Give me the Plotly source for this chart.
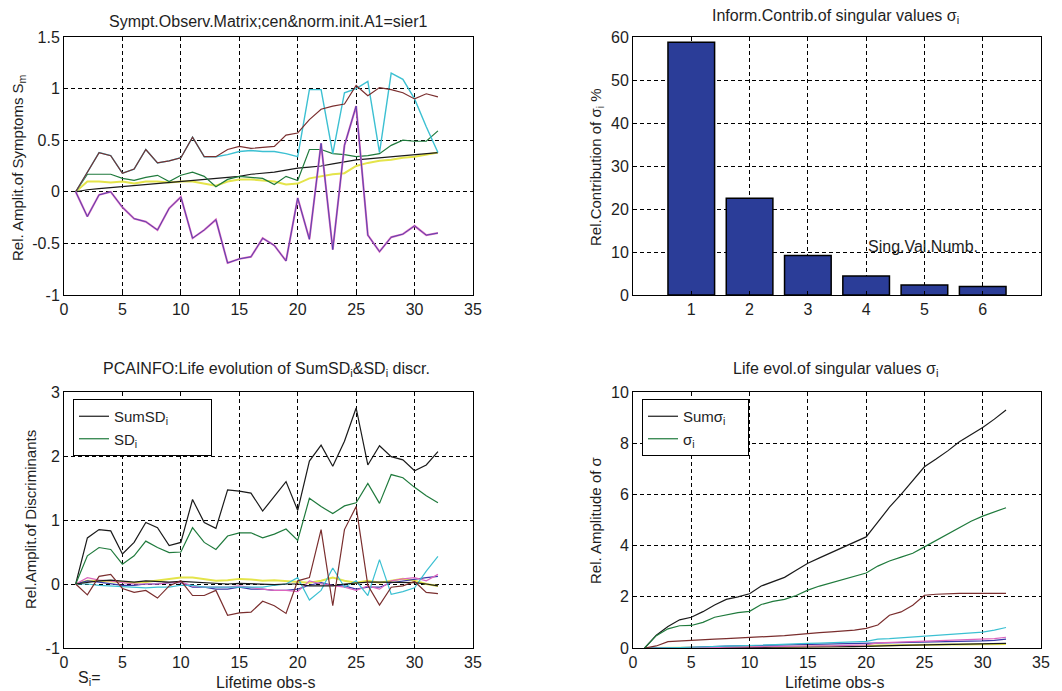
import plotly.graph_objects as go

W, H = 1062, 691

# ---------------- data ----------------
obs = list(range(1, 33))

# top-left: symptom observation matrix
sym_red = [0, 0.19, 0.38, 0.35, 0.18, 0.22, 0.41, 0.28, 0.30, 0.33, 0.53, 0.34, 0.34, 0.41, 0.44, 0.42,
           0.43, 0.44, 0.55, 0.57, 0.70, 0.80, 0.83, 0.85, 1.03, 0.93, 1.01, 0.99, 0.96, 0.90, 0.95, 0.92]
sym_cyan = [0, 0.19, 0.38, 0.35, 0.18, 0.22, 0.41, 0.28, 0.30, 0.33, 0.53, 0.34, 0.34, 0.36, 0.39, 0.40,
            0.39, 0.39, 0.37, 0.34, 0.99, 0.99, 0.37, 0.96, 1.00, 1.07, 0.38, 1.15, 1.09, 0.90, 0.63, 0.38]
sym_green = [0, 0.17, 0.17, 0.17, 0.13, 0.11, 0.14, 0.16, 0.10, 0.16, 0.19, 0.15, 0.05, 0.12, 0.15, 0.14,
             0.13, 0.07, 0.15, 0.11, 0.41, 0.41, 0.37, 0.36, 0.34, 0.35, 0.37, 0.45, 0.50, 0.49, 0.49, 0.59]
sym_yellow = [0, 0.10, 0.10, 0.09, 0.10, 0.08, 0.10, 0.10, 0.09, 0.10, 0.10, 0.08, 0.06, 0.10, 0.12, 0.12,
              0.11, 0.10, 0.07, 0.08, 0.13, 0.15, 0.17, 0.18, 0.25, 0.28, 0.30, 0.31, 0.33, 0.34, 0.36, 0.38]
sym_black = [0, 0.02, 0.03, 0.04, 0.05, 0.06, 0.07, 0.08, 0.09, 0.10, 0.11, 0.12, 0.13, 0.14, 0.15, 0.17,
             0.18, 0.19, 0.21, 0.23, 0.24, 0.25, 0.27, 0.29, 0.31, 0.32, 0.33, 0.34, 0.35, 0.36, 0.37, 0.38]
sym_magenta = [0, -0.24, -0.03, 0.00, -0.15, -0.26, -0.29, -0.37, -0.16, -0.05, -0.45, -0.37, -0.27, -0.69,
               -0.65, -0.63, -0.45, -0.52, -0.67, -0.06, -0.46, 0.47, -0.56, 0.45, 0.83, -0.42, -0.58,
               -0.44, -0.41, -0.33, -0.42, -0.40]

# top-right: information contribution of singular values
sv_num = [1, 2, 3, 4, 5, 6]
sv_contrib = [58.8, 22.5, 9.2, 4.4, 2.3, 2.0]

# bottom-left: discriminants
sumsd = [0, 0.72, 0.85, 0.83, 0.47, 0.65, 0.96, 0.88, 0.60, 0.65, 1.32, 0.96, 0.87, 1.47, 1.45, 1.42,
         1.14, 1.37, 1.60, 1.15, 1.92, 2.17, 1.84, 2.23, 2.75, 1.86, 2.16, 1.99, 1.94, 1.77, 1.86, 2.07]
sd1 = [0, 0.44, 0.57, 0.54, 0.31, 0.44, 0.67, 0.57, 0.49, 0.50, 0.88, 0.65, 0.54, 0.75, 0.80, 0.80,
       0.72, 0.78, 0.86, 0.68, 1.34, 1.21, 1.10, 1.22, 1.27, 1.57, 1.26, 1.71, 1.66, 1.51, 1.38, 1.27]
sd2 = [0, -0.17, 0.12, 0.15, -0.07, -0.13, -0.10, -0.22, -0.03, 0.05, -0.18, -0.18, -0.10, -0.49, -0.45,
       -0.44, -0.27, -0.34, -0.46, 0.05, 0.10, 0.85, -0.34, 0.85, 1.21, -0.02, -0.33, -0.05, -0.03, 0.04,
       -0.13, -0.15]
sd3 = [0, 0.00, -0.02, -0.03, -0.03, -0.05, -0.06, -0.05, -0.05, -0.02, -0.02, -0.05, -0.05, -0.06, -0.05,
       -0.05, -0.05, -0.02, 0.00, 0.10, -0.25, -0.10, 0.25, -0.05, 0.05, -0.18, 0.38, -0.16, -0.12, -0.06,
       0.20, 0.43]
sd4 = [0, 0.10, 0.06, 0.05, 0.02, 0.00, 0.00, 0.00, 0.02, 0.03, -0.03, -0.05, -0.05, -0.05, -0.03, -0.06,
       -0.08, -0.10, -0.10, -0.12, 0.05, 0.00, -0.03, -0.05, -0.10, -0.03, -0.08, 0.05, 0.08, 0.10, 0.05, 0.15]
sd5 = [0, 0.05, 0.05, 0.04, 0.03, 0.02, 0.03, 0.05, 0.08, 0.10, 0.10, 0.08, 0.05, 0.06, 0.08, 0.07,
       0.05, 0.06, 0.05, 0.03, 0.02, 0.05, 0.10, 0.05, 0.02, 0.05, 0.02, 0.05, 0.08, 0.05, 0.00, -0.03]
sd6 = [0, 0.05, 0.03, 0.00, -0.02, -0.02, 0.00, 0.00, 0.02, 0.02, -0.05, -0.05, -0.08, -0.08, -0.05, -0.08,
       -0.08, -0.10, -0.10, -0.08, -0.02, 0.02, -0.02, -0.03, -0.08, -0.05, -0.05, 0.02, 0.05, 0.08, 0.10, 0.12]
sd7 = [0, 0.03, 0.05, 0.06, 0.04, 0.03, 0.05, 0.04, 0.03, 0.04, 0.03, 0.02, 0.01, 0.00, 0.01, 0.00,
       0.00, -0.01, 0.00, 0.00, -0.03, -0.03, -0.03, 0.00, 0.02, 0.03, 0.03, 0.03, 0.02, 0.02, 0.00, -0.03]

# bottom-right: singular values
sumsig = [0, 0.50, 0.84, 1.10, 1.20, 1.42, 1.68, 1.90, 2.00, 2.12, 2.42, 2.59, 2.76, 3.04, 3.31, 3.52,
          3.72, 3.92, 4.14, 4.34, 4.92, 5.50, 6.00, 6.54, 7.08, 7.38, 7.70, 8.06, 8.35, 8.61, 8.94, 9.30]
sig1 = [0, 0.48, 0.75, 0.87, 0.88, 1.00, 1.20, 1.30, 1.38, 1.43, 1.70, 1.82, 1.90, 2.05, 2.26, 2.42,
        2.55, 2.70, 2.82, 2.93, 3.20, 3.40, 3.55, 3.70, 3.95, 4.20, 4.45, 4.70, 4.95, 5.15, 5.30, 5.48]
sig2 = [0, 0.08, 0.25, 0.28, 0.31, 0.33, 0.35, 0.37, 0.39, 0.41, 0.43, 0.45, 0.48, 0.52, 0.57, 0.60,
        0.63, 0.66, 0.70, 0.77, 0.90, 1.28, 1.41, 1.67, 2.06, 2.10, 2.12, 2.13, 2.13, 2.13, 2.13, 2.13]
sig3 = [0, 0.00, 0.01, 0.02, 0.03, 0.05, 0.06, 0.07, 0.08, 0.10, 0.11, 0.13, 0.14, 0.16, 0.18, 0.19,
        0.20, 0.22, 0.24, 0.26, 0.35, 0.37, 0.40, 0.43, 0.45, 0.50, 0.52, 0.55, 0.58, 0.62, 0.70, 0.80]
sig4 = [0, 0.00, 0.00, 0.01, 0.01, 0.02, 0.02, 0.03, 0.04, 0.05, 0.05, 0.06, 0.06, 0.07, 0.07, 0.08,
        0.08, 0.09, 0.10, 0.12, 0.20, 0.22, 0.24, 0.25, 0.27, 0.28, 0.30, 0.31, 0.33, 0.35, 0.37, 0.42]
sig5 = [0, 0.00, 0.01, 0.02, 0.03, 0.05, 0.06, 0.07, 0.08, 0.09, 0.10, 0.10, 0.11, 0.12, 0.12, 0.13,
        0.13, 0.14, 0.15, 0.16, 0.18, 0.19, 0.20, 0.21, 0.22, 0.23, 0.24, 0.25, 0.26, 0.28, 0.30, 0.35]
sig6 = [0, 0.00, 0.00, 0.00, 0.01, 0.01, 0.02, 0.02, 0.03, 0.03, 0.04, 0.04, 0.05, 0.05, 0.06, 0.06,
        0.07, 0.07, 0.08, 0.08, 0.10, 0.11, 0.12, 0.12, 0.13, 0.13, 0.14, 0.14, 0.15, 0.15, 0.15, 0.16]
sig7 = [0, 0.00, 0.00, 0.00, 0.00, 0.01, 0.01, 0.01, 0.02, 0.02, 0.02, 0.03, 0.03, 0.03, 0.04, 0.04,
        0.04, 0.05, 0.05, 0.06, 0.08, 0.09, 0.10, 0.11, 0.12, 0.13, 0.14, 0.15, 0.15, 0.16, 0.17, 0.18]

ticks_tl = [-1, -0.5, 0, 0.5, 1, 1.5]
ticks_tl_txt = ["-1", "-0.5", "0", "0.5", "1", "1.5"]
ticks_bl = [-1, 0, 1, 2, 3]
ticks_bl_txt = ["-1", "0", "1", "2", "3"]

# ---------------- style ----------------
FONT = "Arial, 'Liberation Sans', Helvetica, sans-serif"
TXT = "#1e1e1e"
C_RED = "#7a2e2e"
C_GREEN = "#1f7a3c"
C_CYAN = "#3cc0d2"
C_MAG = "#dc66bf"
C_BLUE = "#3a3aa8"
C_YEL = "#e4e44a"
C_BLK = "#1a1a1a"
NB = "\u00a0"

fig = go.Figure()


def line(x, y, color, axis, width=1.2, name=None, legend=None):
    fig.add_trace(go.Scatter(
        x=x, y=y, mode="lines", line=dict(color=color, width=width),
        xaxis="x" + axis if axis != "1" else "x", yaxis="y" + axis if axis != "1" else "y",
        name=name if name else "", showlegend=name is not None,
        legend=legend if legend else "legend", hoverinfo="skip"))


# top-left
line(obs, sym_yellow, C_YEL, "1", width=2)
line(obs, sym_black, C_BLK, "1")
line(obs, sym_green, C_GREEN, "1")
line(obs, sym_cyan, C_CYAN, "1", width=1.4)
line(obs, sym_red, C_RED, "1")
line(obs, sym_magenta, C_MAG, "1", width=2)
line(obs, sym_magenta, C_BLUE, "1", width=0.8)

# top-right
fig.add_trace(go.Bar(x=sv_num, y=sv_contrib, width=0.8, xaxis="x2", yaxis="y2",
                     marker=dict(color="#2b3d98", line=dict(color="#000000", width=1.5)),
                     showlegend=False, hoverinfo="skip"))

# bottom-left
line(obs, sd5, C_YEL, "3", width=2)
line(obs, sd6, C_BLUE, "3")
line(obs, sd4, C_MAG, "3")
line(obs, sd3, C_CYAN, "3")
line(obs, sd7, C_BLK, "3")
line(obs, sd2, C_RED, "3")
line(obs, sumsd, C_BLK, "3", name="SumSD<sub>i</sub>" + NB * 9, legend="legend")
line(obs, sd1, C_GREEN, "3", name="SD<sub>i</sub>", legend="legend")

# bottom-right
line(obs, sig6, C_YEL, "4", width=2)
line(obs, sig5, C_BLUE, "4")
line(obs, sig7, C_BLK, "4")
line(obs, sig4, C_MAG, "4")
line(obs, sig3, C_CYAN, "4")
line(obs, sig2, C_RED, "4")
line(obs, sumsig, C_BLK, "4", name="Sumσ<sub>i</sub>" + NB * 4, legend="legend2")
line(obs, sig1, C_GREEN, "4", name="σ<sub>i</sub>", legend="legend2")


def px(v):
    return v / W


def py(v):
    return 1 - v / H


axis_common = dict(showline=True, linecolor="#000000", linewidth=1, mirror=True,
                   ticks="inside", ticklen=4, tickcolor="#000000", automargin=False,
                   showgrid=True, gridcolor="#000000", gridwidth=1, griddash="4px,3px",
                   zeroline=False, tickfont=dict(family=FONT, size=16, color=TXT))

dom_left = [px(64), px(473)]
dom_right = [px(633), px(1041)]
dom_top = [py(295), py(37)]
dom_bot = [py(648), py(392)]

leg_common = dict(xanchor="left", yanchor="top", bgcolor="white",
                  bordercolor="#000000", borderwidth=1, font=dict(family=FONT, size=15, color=TXT),
                  itemwidth=30, tracegroupgap=0)

fig.update_layout(
    width=W, height=H, margin=dict(l=0, r=0, t=0, b=0, autoexpand=False),
    paper_bgcolor="white", plot_bgcolor="white",
    font=dict(family=FONT, size=15, color=TXT),
    xaxis=dict(domain=dom_left, range=[0, 35], dtick=5, anchor="y", **axis_common),
    yaxis=dict(domain=dom_top, range=[-1, 1.5], tickvals=ticks_tl, ticktext=ticks_tl_txt,
               anchor="x", **axis_common),
    xaxis2=dict(domain=dom_right, range=[0, 7], tickvals=sv_num, anchor="y2", **axis_common),
    yaxis2=dict(domain=dom_top, range=[0, 60], dtick=10, anchor="x2", **axis_common),
    xaxis3=dict(domain=dom_left, range=[0, 35], dtick=5, anchor="y3", **axis_common),
    yaxis3=dict(domain=dom_bot, range=[-1, 3], tickvals=ticks_bl, ticktext=ticks_bl_txt,
                anchor="x3", **axis_common),
    xaxis4=dict(domain=dom_right, range=[0, 35], dtick=5, anchor="y4", **axis_common),
    yaxis4=dict(domain=dom_bot, range=[0, 10], dtick=2, anchor="x4", **axis_common),
    legend=dict(x=px(73), y=py(399), **leg_common),
    legend2=dict(x=px(642), y=py(399), **leg_common),
    bargap=0.2,
)


def ann(text, x, y, xanchor="center", yanchor="middle", angle=0, xref="paper", yref="paper", size=16):
    fig.add_annotation(text=text, x=x, y=y, xref=xref, yref=yref, xanchor=xanchor,
                       yanchor=yanchor, textangle=angle, showarrow=False,
                       font=dict(family=FONT, size=size, color=TXT))


# titles
ann("Sympt.Observ.Matrix;cen&amp;norm.init.A1=sier1", px(268), py(21))
ann("Inform.Contrib.of singular values σ<sub>i</sub>", px(835), py(16))
ann("PCAINFO:Life evolution of SumSD<sub>i</sub>&amp;SD<sub>i</sub> discr.", px(266), py(369))
ann("Life evol.of singular values σ<sub>i</sub>", px(835), py(369))

# y-axis titles
ann("Rel. Amplit.of Symptoms S<sub>m</sub>", px(18), py(168), angle=-90, size=15)
ann("Rel.Contribution of σ<sub>i</sub> %", px(597), py(167), angle=-90, size=15)
ann("Rel.Amplit.of Discriminants", px(30), py(520), angle=-90, size=15)
ann("Rel. Amplitude of σ", px(595), py(520), angle=-90, size=15)

# x-axis titles
ann("Lifetime obs-s", px(266), py(682))
ann("Lifetime obs-s", px(835), py(682))
ann("S<sub>i</sub>=", px(76), py(678), xanchor="left")

# label inside bar chart
ann("Sing.Val.Numb.", 4, 11.3, xanchor="left", xref="x2", yref="y2")

fig.write_html(
    "out.html",
    config={"displayModeBar": False},
    post_script="document.body.style.margin='0';document.body.style.overflow='hidden';",
)
